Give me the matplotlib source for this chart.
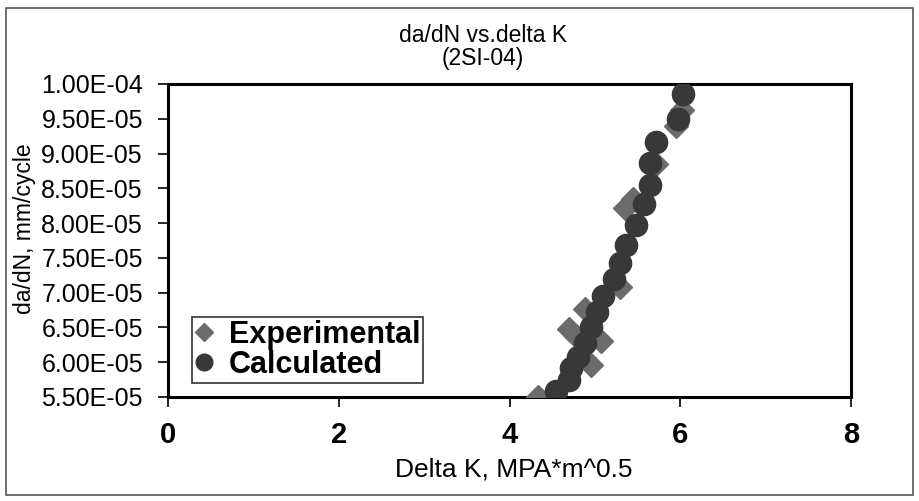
import numpy as np
import matplotlib
matplotlib.use("Agg")
from matplotlib import pyplot as plt
from matplotlib.ticker import FuncFormatter, MultipleLocator
from matplotlib.patches import Rectangle

plt.rcParams["font.family"] = ["Liberation Sans", "DejaVu Sans"]

# Experimental points (Delta K, da/dN)
exp_dk = [4.33, 4.96, 5.07, 4.78, 4.70, 4.88, 5.30, 5.35, 5.45, 5.72, 5.95, 6.02]
exp_dadn = [5.50e-5, 5.96e-5, 6.30e-5, 6.38e-5, 6.48e-5, 6.77e-5, 7.08e-5,
            8.22e-5, 8.35e-5, 8.85e-5, 9.40e-5, 9.62e-5]

# Calculated points
calc_dk = [4.55, 4.70, 4.72, 4.80, 4.88, 4.95, 5.02, 5.10, 5.22, 5.30, 5.36,
           5.48, 5.57, 5.65, 5.65, 5.72, 5.97, 6.03]
calc_dadn = [5.58e-5, 5.75e-5, 5.92e-5, 6.08e-5, 6.28e-5, 6.50e-5, 6.72e-5,
             6.95e-5, 7.20e-5, 7.43e-5, 7.68e-5, 7.98e-5, 8.27e-5, 8.55e-5,
             8.87e-5, 9.17e-5, 9.50e-5, 9.85e-5]

fig = plt.figure(figsize=(9.19, 5.01), dpi=100)
ax = fig.add_axes([168 / 919, 1 - 397 / 501, (851 - 168) / 919, (397 - 84) / 501])

ax.plot(exp_dk, exp_dadn, linestyle="none", marker="D", markersize=12,
        color="#6b6b6b", label="Experimental", zorder=3)
ax.plot(calc_dk, calc_dadn, linestyle="none", marker="o", markersize=16,
        color="#383838", label="Calculated", zorder=4)

ax.set_xlim(0, 8)
ax.set_ylim(5.5e-5, 1.0e-4)
ax.xaxis.set_major_locator(MultipleLocator(2))
ax.yaxis.set_major_locator(MultipleLocator(0.5e-5))
ax.yaxis.set_major_formatter(FuncFormatter(lambda v, p: f"{v:.2E}"))

for s in ax.spines.values():
    s.set_linewidth(2.2)
ax.tick_params(axis="both", direction="out", length=7, width=1.2)
ax.tick_params(axis="y", labelsize=18, pad=11)
for lab in ax.get_xticklabels():
    lab.set_fontweight("bold")
    lab.set_fontsize(21)
ax.tick_params(axis="x", pad=10)

ax.set_xlabel("Delta K, MPA*m^0.5", fontsize=19)
ax.xaxis.set_label_coords((514 - 168) / 683, -(457 - 397) / 313)
ax.set_ylabel("da/dN, mm/cycle", fontsize=16.5)
ax.yaxis.set_label_coords(-(168 - 36) / 683, (397 - 229) / 313)

fig.text(483 / 919, 1 - 36 / 501, "da/dN vs.delta K", ha="center", va="center", fontsize=16.5)
fig.text(483 / 919, 1 - 59 / 501, "(2SI-04)", ha="center", va="center", fontsize=16.5)

leg = ax.legend(loc="lower left", bbox_to_anchor=(0.035, 0.045), borderaxespad=0,
                frameon=True, fancybox=False, edgecolor="black", handlelength=0.6,
                handletextpad=0.5, borderpad=0.1, labelspacing=0.0,
                prop={"weight": "bold", "size": 22}, markerscale=0.75)
leg.get_frame().set_linewidth(1.2)

fig.patches.append(Rectangle((6 / 919, 6 / 501), 907 / 919, 487 / 501,
                             transform=fig.transFigure, fill=False,
                             edgecolor="#555555", linewidth=1.2))

fig.savefig("out.png", dpi=100)
